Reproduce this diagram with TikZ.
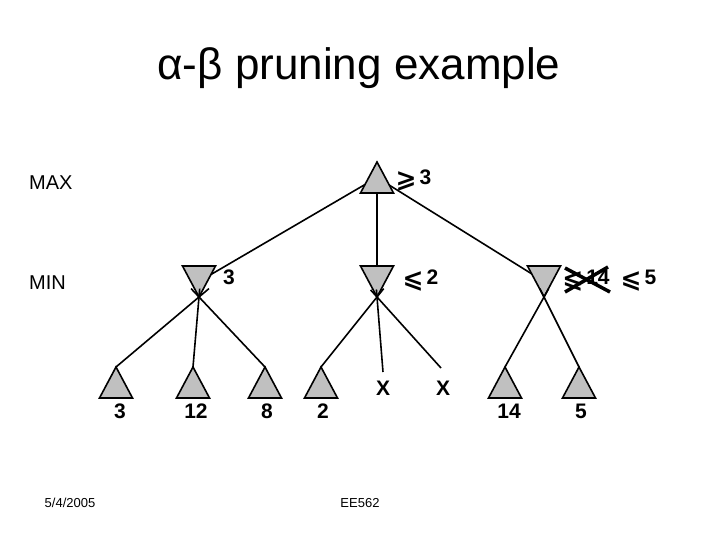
\documentclass[tikz,border=0pt]{standalone}
\usepackage{fontspec}
\setmainfont{Liberation Sans}
\newfontfamily\symfont{DejaVu Sans}
\usetikzlibrary{calc}
\definecolor{trigray}{RGB}{192,192,192}
\newcommand{\uptri}[1]{\draw[tri] (#1) ++(0,-15.5) -- ++(16.5,31) -- ++(-33,0) -- cycle;}
\newcommand{\dntri}[1]{\draw[tri] (#1) ++(0,15.5) -- ++(16.5,-31) -- ++(-33,0) -- cycle;}
\newcommand{\lsq}{\raisebox{-3pt}{\fontsize{25}{25}\symfont\bfseries ⩽}\hspace{3pt}}
\newcommand{\gsq}{\raisebox{-3pt}{\fontsize{25}{25}\symfont\bfseries ⩾}\hspace{3pt}}
\begin{document}
\begin{tikzpicture}[x=1pt,y=-1pt,
  tri/.style={fill=trigray,draw=black,line width=1.6pt,line join=miter},
  edge/.style={line width=1.6pt},
  val/.style={inner sep=0pt,font=\fontsize{21}{21}\selectfont\bfseries},
  lvl/.style={inner sep=0pt,anchor=west,font=\fontsize{20}{20}\selectfont},
  foot/.style={inner sep=0pt,font=\fontsize{13}{13}\selectfont}]
\useasboundingbox[fill=white] (0,0) rectangle (720,540);
% title
\node[inner sep=0pt,font=\fontsize{44}{44}\selectfont] (title) at (359,68) {α-β pruning example};
% level labels
\node[lvl] (maxlab) at (29,183) {MAX};
\node[lvl] (minlab) at (29,283) {MIN};
% footer
\node[foot] (date) at (70,503) {5/4/2005};
\node[foot] (course) at (360,503) {EE562};
% node centres and apexes
\coordinate (max) at (377,177.5);
\coordinate (minL) at (199,281.5);
\coordinate (minM) at (377,281.5);
\coordinate (minR) at (544,281.5);
\coordinate (minL-a) at (199,297);
\coordinate (minM-a) at (377,297);
\coordinate (minR-a) at (544,297);
\coordinate (l1) at (116,382.5);
\coordinate (l2) at (193,382.5);
\coordinate (l3) at (265,382.5);
\coordinate (l4) at (321,382.5);
\coordinate (l7) at (505,382.5);
\coordinate (l8) at (579,382.5);
\coordinate (l1-a) at (116,367);
\coordinate (l2-a) at (193,367);
\coordinate (l3-a) at (265,367);
\coordinate (l4-a) at (321,367);
\coordinate (l7-a) at (505,367);
\coordinate (l8-a) at (579,367);
\coordinate (x1-e) at (383,372);
\coordinate (x2-e) at (441,368);
% MAX -> MIN edges
\draw[edge] (max) -- (minL);
\draw[edge] (max) -- (minM);
\draw[edge] (max) -- (minR);
% MAX and MIN triangles
\uptri{max}
\dntri{minL}
\dntri{minM}
\dntri{minR}
% MIN -> leaf edges
\foreach \m/\l in {minL/l1,minL/l2,minL/l3,minM/l4,minR/l7,minR/l8}{
  \draw[edge] ($(\m-a)!-0.12!(\l-a)$) -- (\l-a);
}
\draw[edge] ($(minM-a)!-0.1!(x1-e)$) -- (x1-e);
\draw[edge] ($(minM-a)!-0.1!(x2-e)$) -- (x2-e);
% leaves
\uptri{l1}
\uptri{l2}
\uptri{l3}
\uptri{l4}
\uptri{l7}
\uptri{l8}
% pruned leaves
\node[val] (x1) at (383,388) {X};
\node[val] (x2) at (443,388) {X};
% leaf values
\node[val] (v1) at (120,411) {3};
\node[val] (v2) at (196,411) {12};
\node[val] (v3) at (267,411) {8};
\node[val] (v4) at (323,411) {2};
\node[val] (v7) at (509,411) {14};
\node[val] (v8) at (581,411) {5};
% bounds
\node[val,anchor=base] (bmax) at (413.5,185) {\gsq3};
\node[val] (bminL) at (229,277) {3};
\node[val,anchor=base] (bminM) at (420.5,284.5) {\lsq2};
\node[val,anchor=base] (bminR1) at (586,284.5) {\lsq14};
\node[val,anchor=base] (bminR2) at (638.5,284.5) {\lsq5};
\draw[line width=3.5pt] (565,268) -- (610,292);
\draw[line width=3.5pt] (565,292) -- (608,267);
\end{tikzpicture}
\end{document}
